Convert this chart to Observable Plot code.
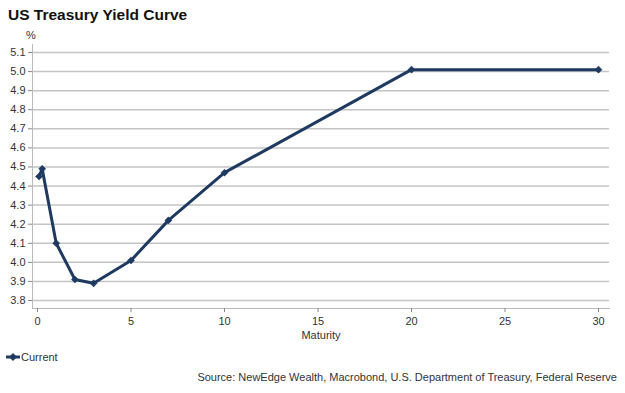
<!DOCTYPE html>
<html>
<head>
<meta charset="utf-8">
<script src="https://cdn.jsdelivr.net/npm/d3@7"></script>
<script src="https://cdn.jsdelivr.net/npm/@observablehq/plot@0.6"></script>
<style>
  body { margin: 0; background: #fff; font-family: "Liberation Sans", Arial, sans-serif; }
  #wrap { position: relative; width: 625px; height: 393px; overflow: hidden; }
  #chart { position: absolute; left: 0; top: 0; }
  .t { position: absolute; white-space: nowrap; color: #333; font-size: 11px; }
  #title { left: 8px; top: 6px; font-size: 15.5px; font-weight: bold; color: #111; }
  #pct { left: 26px; top: 29px; }
  #legend { left: 5px; top: 351px; display: flex; align-items: center; }
  #source { right: 8px; top: 371px; }
</style>
</head>
<body>
<div id="wrap">
  <div id="chart"></div>
  <div id="title" class="t">US Treasury Yield Curve</div>
  <div id="pct" class="t">%</div>
  <div id="legend" class="t"><svg width="16" height="10"><line x1="1" y1="5" x2="15" y2="5" stroke="#1f3a60" stroke-width="3"/><path d="M8,1 L12,5 L8,9 L4,5 Z" fill="#1f3a60"/></svg>Current</div>
  <div id="source" class="t">Source: NewEdge Wealth, Macrobond, U.S. Department of Treasury, Federal Reserve</div>
</div>
<script>
const seriesName = "Current";
const maturities = [1/12, 0.25, 1, 2, 3, 5, 7, 10, 20, 30];
const yields = [4.45, 4.49, 4.10, 3.91, 3.89, 4.01, 4.22, 4.47, 5.01, 5.01];
const xTicks = [0, 5, 10, 15, 20, 25, 30];
const yTicks = [3.8, 3.9, 4.0, 4.1, 4.2, 4.3, 4.4, 4.5, 4.6, 4.7, 4.8, 4.9, 5.0, 5.1];
const color = "#1f3a60";

const data = maturities.map((m, i) => ({maturity: m, yield: yields[i], series: seriesName}));

const chart = Plot.plot({
  width: 625,
  height: 393,
  marginLeft: 32,
  marginRight: 16,
  marginTop: 44,
  marginBottom: 85,
  style: {fontFamily: "Liberation Sans, Arial, sans-serif", fontSize: "11px", color: "#333"},
  x: {domain: [0, 30], insetLeft: 5, insetRight: 11},
  y: {domain: [3.8, 5.1], insetTop: 8, insetBottom: 8},
  marks: [
    Plot.gridY(yTicks, {stroke: "#c4c4c4", strokeOpacity: 1, strokeWidth: 1.5}),
    Plot.frame({anchor: "left", stroke: "#bbb"}),
    Plot.frame({anchor: "bottom", stroke: "#bbb"}),
    Plot.axisY(yTicks, {tickSize: 4, tickPadding: 3, stroke: "#888", tickFormat: d => d.toFixed(1), label: null, fill: "#333"}),
    Plot.axisX(xTicks, {tickSize: 4, tickPadding: 5, stroke: "#888", label: "Maturity", labelAnchor: "center", labelArrow: "none", labelOffset: 30, fill: "#333"}),
    Plot.line(data, {x: "maturity", y: "yield", stroke: color, strokeWidth: 3}),
    Plot.dot(data, {x: "maturity", y: "yield", symbol: "diamond2", r: 3.2, fill: color, stroke: color, strokeWidth: 0.5})
  ]
});
document.getElementById("chart").appendChild(chart);
</script>
</body>
</html>
